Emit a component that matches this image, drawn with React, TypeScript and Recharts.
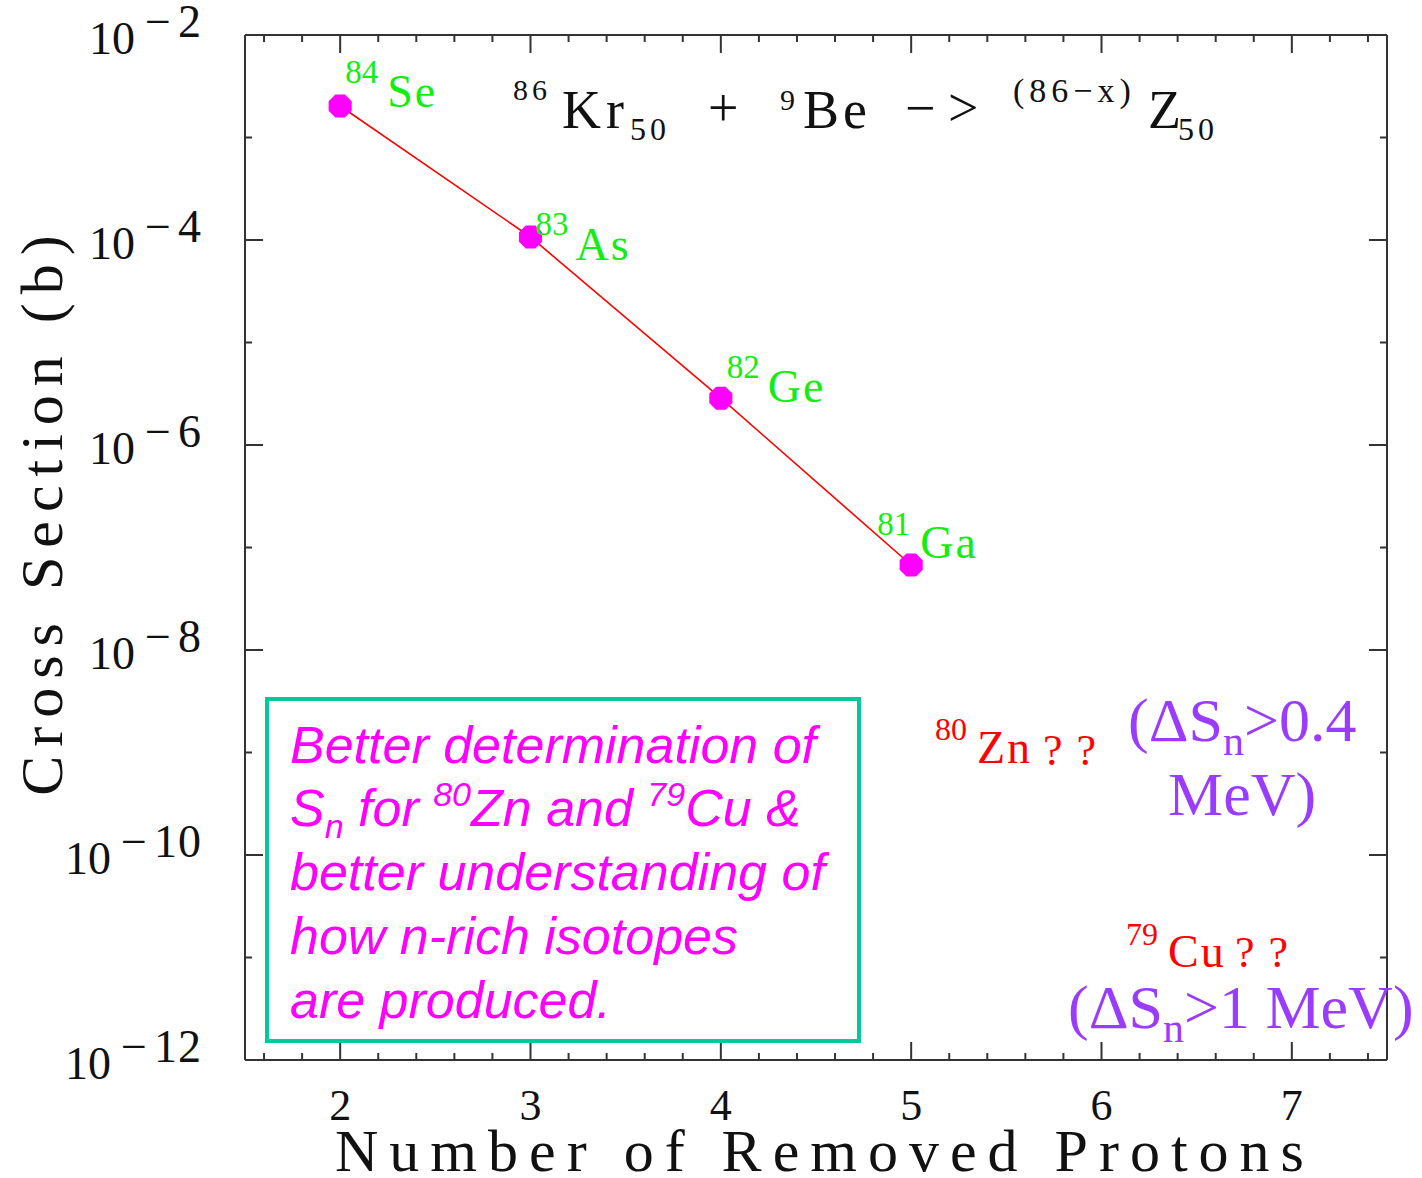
import React from 'react';
import { LineChart, Line, XAxis, YAxis } from 'recharts';

// ---------- data ----------
const REMOVED_PROTONS = [2, 3, 4, 5];
const CROSS_SECTION = [2.03e-3, 1.07e-4, 2.86e-6, 6.75e-8];
const MASS_NUMBERS = ['84', '83', '82', '81'];
const ELEMENTS = ['Se', 'As', 'Ge', 'Ga'];

const X_MAJOR_TICKS = [2, 3, 4, 5, 6, 7];
const X_MINOR_TICKS = [1.6, 1.8, 2.2, 2.4, 2.6, 2.8, 3.2, 3.4, 3.6, 3.8, 4.2, 4.4, 4.6, 4.8, 5.2, 5.4, 5.6, 5.8, 6.2, 6.4, 6.6, 6.8, 7.2, 7.4];
const Y_MAJOR_TICKS = [1e-12, 1e-10, 1e-8, 1e-6, 1e-4, 1e-2];
const Y_MINOR_TICKS = [1e-11, 1e-9, 1e-7, 1e-5, 1e-3];
const X_DOMAIN = [1.5, 7.5];
const Y_DOMAIN = [1e-12, 1e-2];

const X_ALL_TICKS = [...X_MAJOR_TICKS, ...X_MINOR_TICKS].sort((a, b) => a - b);
const Y_ALL_TICKS = [...Y_MAJOR_TICKS, ...Y_MINOR_TICKS].sort((a, b) => a - b);

// ---------- layout / style ----------
const PLOT_LEFT = 245;
const PLOT_TOP = 35;
const PLOT_RIGHT_MARGIN = 35;
const X_AXIS_HEIGHT = 118;
const LABEL_OFFSETS = [
  { supDx: 5, supDy: -23, dx: 47, dy: 1 },
  { supDx: 5, supDy: -2, dx: 45, dy: 23 },
  { supDx: 6, supDy: -20, dx: 47, dy: 4 },
  { supDx: -34, supDy: -30, dx: 9, dy: -7 },
];
const SERIF = '"Liberation Serif", "DejaVu Serif", serif';
const SANS = '"Liberation Sans", Arial, sans-serif';
const FRAME = '#333';
const GREEN = '#12ee12';
const MAGENTA = '#ff00ff';
const RED = '#ff0000';
const PURPLE = '#9a3cff';
const MAJOR_LEN = 18;
const MINOR_LEN = 7;
const TICK_W = 2;

const data = REMOVED_PROTONS.map((x, i) => ({ x, cs: CROSS_SECTION[i] }));

const isMajorX = (v: number) => X_MAJOR_TICKS.some((t) => Math.abs(t - v) < 1e-9);
const isMajorY = (v: number) => Y_MAJOR_TICKS.some((t) => Math.abs(Math.log10(t) - Math.log10(v)) < 1e-6);

// left axis: labels only (tick marks drawn with the right-axis ticks)
const LeftTick = (props: any) => {
  const { x, y, payload } = props;
  if (!isMajorY(payload.value)) return <g />;
  const exp = Math.round(Math.log10(payload.value));
  return (
    <text x={x - 43} y={y + 19} textAnchor="end" fontFamily={SERIF} fill="#111" fontSize={46}>
      <tspan>10</tspan>
      <tspan dx={10} dy={-17}>{'\u2212'}</tspan>
      <tspan dx={7} letterSpacing={1}>{String(Math.abs(exp))}</tspan>
    </text>
  );
};

// right axis: inward tick marks on both vertical frame sides
const RightTick = (props: any) => {
  const { x, y, payload } = props;
  const len = isMajorY(payload.value) ? MAJOR_LEN : MINOR_LEN;
  return (
    <g>
      <path d={`M${x},${y}H${x - len}`} stroke={FRAME} strokeWidth={TICK_W} fill="none" />
      <path d={`M${PLOT_LEFT},${y}H${PLOT_LEFT + len}`} stroke={FRAME} strokeWidth={TICK_W} fill="none" />
    </g>
  );
};

// bottom axis: inward tick marks on both horizontal frame sides + labels
const BottomTick = (props: any) => {
  const { x, y, payload } = props;
  const major = isMajorX(payload.value);
  const len = major ? MAJOR_LEN : MINOR_LEN;
  return (
    <g>
      <path d={`M${x},${y}V${y - len}`} stroke={FRAME} strokeWidth={TICK_W} fill="none" />
      <path d={`M${x},${PLOT_TOP}V${PLOT_TOP + len}`} stroke={FRAME} strokeWidth={TICK_W} fill="none" />
      {major && (
        <text x={x} y={y + 60} textAnchor="middle" fontFamily={SERIF} fontSize={44} fill="#111">
          {payload.value}
        </text>
      )}
    </g>
  );
};

const IsotopeDot = (props: any) => {
  const { cx, cy, index } = props;
  if (cx == null || cy == null) return null;
  const r = 12.5;
  const pts: string[] = [];
  for (let k = 0; k < 8; k++) {
    const a = (Math.PI / 8) + (k * Math.PI) / 4;
    pts.push(`${cx + r * Math.cos(a)},${cy + r * Math.sin(a)}`);
  }
  const o = LABEL_OFFSETS[index] || LABEL_OFFSETS[0];
  return (
    <g key={`dot-${index}`}>
      <polygon points={pts.join(' ')} fill={MAGENTA} stroke="none" />
      <text x={cx + o.supDx} y={cy + o.supDy} fontFamily={SERIF} fontSize={33} fill={GREEN}>
        {MASS_NUMBERS[index]}
      </text>
      <text x={cx + o.dx} y={cy + o.dy} fontFamily={SERIF} fontSize={46} fill={GREEN} letterSpacing={2}>
        {ELEMENTS[index]}
      </text>
    </g>
  );
};

const axisLine = { stroke: FRAME, strokeWidth: 2 };

export default function App() {
  return (
    <div style={{ position: 'absolute', left: 0, top: 0, width: 1422, height: 1178, background: '#fff' }}>
      <LineChart
        width={1422}
        height={1178}
        data={data}
        margin={{ top: PLOT_TOP - 1, right: PLOT_RIGHT_MARGIN - 1, bottom: 0, left: 0 }}
      >
        <XAxis
          xAxisId="x"
          dataKey="x"
          type="number"
          orientation="bottom"
          domain={X_DOMAIN}
          ticks={X_ALL_TICKS}
          interval={0}
          allowDataOverflow
          height={X_AXIS_HEIGHT}
          tickLine={false}
          tickSize={0}
          tickMargin={0}
          axisLine={axisLine}
          tick={<BottomTick />}
        />
        <XAxis
          xAxisId="top"
          type="number"
          orientation="top"
          domain={X_DOMAIN}
          ticks={X_MAJOR_TICKS}
          interval={0}
          allowDataOverflow
          height={1}
          tickLine={false}
          tick={false}
          axisLine={axisLine}
        />
        <YAxis
          yAxisId="y"
          type="number"
          scale="log"
          orientation="left"
          domain={Y_DOMAIN}
          ticks={Y_ALL_TICKS}
          interval={0}
          allowDataOverflow
          width={PLOT_LEFT}
          tickLine={false}
          tickSize={0}
          tickMargin={0}
          axisLine={axisLine}
          tick={<LeftTick />}
        />
        <YAxis
          yAxisId="right"
          type="number"
          scale="log"
          orientation="right"
          domain={Y_DOMAIN}
          ticks={Y_ALL_TICKS}
          interval={0}
          allowDataOverflow
          width={1}
          tickLine={false}
          tickSize={0}
          tickMargin={0}
          axisLine={axisLine}
          tick={<RightTick />}
        />

        <Line
          xAxisId="x"
          yAxisId="y"
          dataKey="cs"
          type="linear"
          stroke={RED}
          strokeWidth={1.6}
          dot={<IsotopeDot />}
          activeDot={false}
          isAnimationActive={false}
        />
      </LineChart>

      {/* annotations */}
      <svg width={1422} height={1178} style={{ position: 'absolute', left: 0, top: 0, pointerEvents: 'none' }}>
        {/* axis titles */}
        <text transform="translate(62,511) rotate(-90)" textAnchor="middle" fontFamily={SERIF} fontSize={60}
          letterSpacing={9} fill="#111">Cross Section (b)</text>
        <text x={825} y={1171} textAnchor="middle" fontFamily={SERIF} fontSize={60} letterSpacing={11}
          fill="#111">Number of Removed Protons</text>

        {/* reaction title */}
        <g fontFamily={SERIF} fill="#111">
          <text x={513} y={100} fontSize={30} letterSpacing={4}>86</text>
          <text x={562} y={128} fontSize={54} letterSpacing={5}>Kr</text>
          <text x={630} y={140} fontSize={32} letterSpacing={4}>50</text>
          <text x={708} y={126} fontSize={54}>+</text>
          <text x={780} y={110} fontSize={30}>9</text>
          <text x={803} y={128} fontSize={54} letterSpacing={4}>Be</text>
          <text x={905} y={126} fontSize={54}>{'\u2212'}</text>
          <text x={948} y={126} fontSize={54}>{'>'}</text>
          <text x={1013} y={102} fontSize={34} letterSpacing={5}>{'(86\u2212x)'}</text>
          <text x={1148} y={128} fontSize={54}>Z</text>
          <text x={1178} y={140} fontSize={32} letterSpacing={4}>50</text>
        </g>

        {/* message box */}
        <rect x={267} y={699} width={592} height={342} fill="none" stroke="#00c99a" strokeWidth={4} />
        <g fontFamily={SANS} fontStyle="italic" fontSize={52} fill={MAGENTA}>
          <text x={290} y={763}>Better determination of</text>
          <text x={290} y={826}>
            <tspan>S</tspan>
            <tspan fontSize={34} dy={12}>n</tspan>
            <tspan dy={-12}>{' for '}</tspan>
            <tspan fontSize={34} dy={-20}>80</tspan>
            <tspan dy={20}>{'Zn and '}</tspan>
            <tspan fontSize={34} dy={-20}>79</tspan>
            <tspan dy={20}>{'Cu &'}</tspan>
          </text>
          <text x={290} y={890}>better understanding of</text>
          <text x={290} y={954}>how n-rich isotopes</text>
          <text x={290} y={1018}>are produced.</text>
        </g>

        {/* unknown isotopes */}
        <g fontFamily={SERIF} fill={RED}>
          <text x={935} y={740} fontSize={32}>80</text>
          <text x={977} y={763} fontSize={46} letterSpacing={2}>Zn</text>
          <text x={1043} y={765} fontSize={44} letterSpacing={14}>??</text>
          <text x={1126} y={945} fontSize={32}>79</text>
          <text x={1168} y={967} fontSize={46} letterSpacing={2}>Cu</text>
          <text x={1235} y={967} fontSize={44} letterSpacing={14}>??</text>
        </g>
        <g fontFamily={SERIF} fill={PURPLE} fontSize={62}>
          <text x={1128} y={741}>
            {'(\u0394S'}
            <tspan fontSize={42} dy={14}>n</tspan>
            <tspan dy={-14}>{'>0.4'}</tspan>
          </text>
          <text x={1168} y={815}>MeV)</text>
          <text x={1068} y={1028}>
            {'(\u0394S'}
            <tspan fontSize={42} dy={14}>n</tspan>
            <tspan dy={-14}>{'>1 MeV)'}</tspan>
          </text>
        </g>
      </svg>
    </div>
  );
}
